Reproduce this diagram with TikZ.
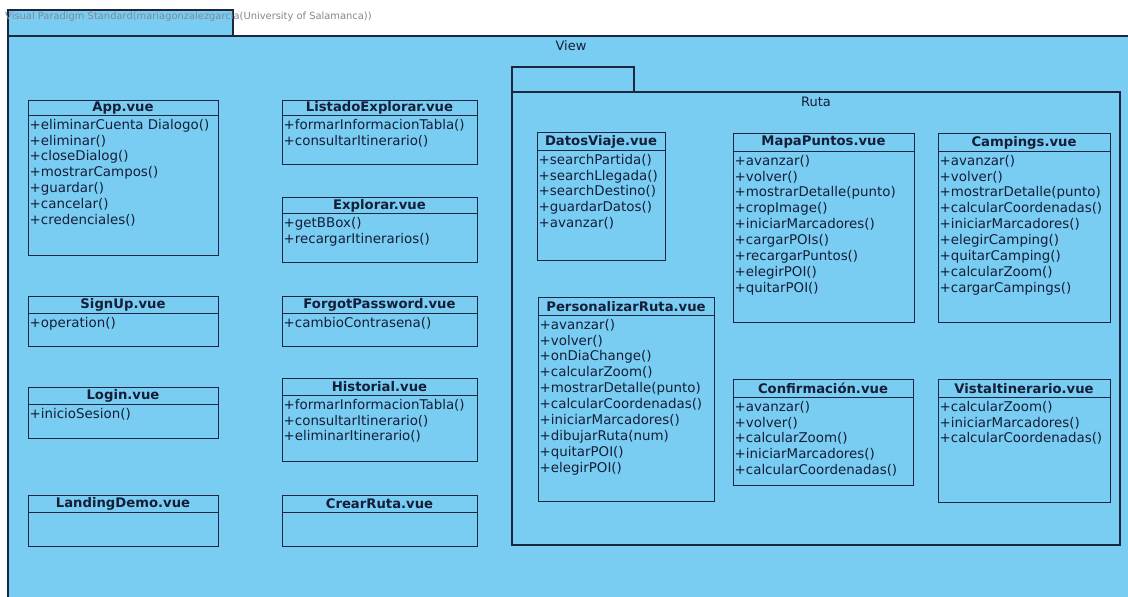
\documentclass[tikz,border=0pt]{standalone}
\usepackage{fontspec}
\setmainfont{DejaVu Sans}
\definecolor{vpfill}{RGB}{122,205,242}
\definecolor{vpline}{RGB}{28,38,62}
\definecolor{vptext}{RGB}{20,30,55}
\definecolor{wmark}{RGB}{128,136,146}
\tikzset{
  pkgline/.style={draw=vpline, line width=1.1pt, fill=vpfill},
  classbox/.style={draw=vpline, line width=1pt, fill=vpfill, inner sep=0pt, anchor=north west},
  classtitle/.style={text=vptext, font=\fontsize{13.2}{15}\selectfont\bfseries, inner sep=0pt},
  methods/.style={text=vptext, font=\fontsize{13.4}{15.9}\selectfont, align=left, anchor=north west, inner xsep=1.5pt, inner ysep=3.8pt},
  pkgtitle/.style={text=vptext, font=\fontsize{13}{15}\selectfont, inner sep=0pt}
}
\newcommand\umlclass[8]{%
  \node[classbox, minimum width={#4pt-#2pt}, minimum height={#5pt-#3pt}] (#1) at (#2,#3) {};
  \draw[draw=vpline, line width=1pt] (#2,#6) -- (#4,#6);
  \node[classtitle] (#1-t) at ({(#2+#4)/2},{(#3+#6)/2+0.5}) {#7};
  \node[methods] (#1-m) at (#2,#6) {#8};
}
\begin{document}
\begin{tikzpicture}[x=1pt, y=-1pt]
\useasboundingbox (0,0) rectangle (1128,597);
\fill[white] (0,0) rectangle (1128,597);
% View package
\draw[pkgline] (8,10) rectangle (233,36);
\draw[pkgline] (8,36) rectangle (1145,610);
\node[pkgtitle] (viewt) at (571,46) {View};
\node[anchor=west, text=wmark, inner sep=0pt, font=\fontsize{9.9}{11}\selectfont] (wm) at (5,17) {Visual Paradigm Standard(mariagonzalezgarcia(University of Salamanca))};
% Ruta package
\draw[pkgline] (512,67) rectangle (634,92);
\draw[pkgline] (512,92) rectangle (1120,545);
\node[pkgtitle] (rutat) at (816,102) {Ruta};
% left column
\umlclass{app}{28}{100}{218}{255}{115}{App.vue}{+eliminarCuenta Dialogo()\\+eliminar()\\+closeDialog()\\+mostrarCampos()\\+guardar()\\+cancelar()\\+credenciales()}
\umlclass{signup}{28}{296}{218}{346}{313}{SignUp.vue}{+operation()}
\umlclass{login}{28}{387}{218}{438}{404}{Login.vue}{+inicioSesion()}
\umlclass{landing}{28}{495}{218}{546}{512}{LandingDemo.vue}{}
% middle column
\umlclass{listado}{282}{100}{477}{164}{115}{ListadoExplorar.vue}{+formarInformacionTabla()\\+consultarItinerario()}
\umlclass{explorar}{282}{197}{477}{262}{213}{Explorar.vue}{+getBBox()\\+recargarItinerarios()}
\umlclass{forgot}{282}{296}{477}{346}{313}{ForgotPassword.vue}{+cambioContrasena()}
\umlclass{historial}{282}{378}{477}{461}{395}{Historial.vue}{+formarInformacionTabla()\\+consultarItinerario()\\+eliminarItinerario()}
\umlclass{crear}{282}{495}{477}{546}{512}{CrearRuta.vue}{}
% Ruta classes
\umlclass{datos}{537}{132}{665}{260}{150}{DatosViaje.vue}{+searchPartida()\\+searchLlegada()\\+searchDestino()\\+guardarDatos()\\+avanzar()}
\umlclass{mapa}{733}{133}{914}{322}{151}{MapaPuntos.vue}{+avanzar()\\+volver()\\+mostrarDetalle(punto)\\+cropImage()\\+iniciarMarcadores()\\+cargarPOIs()\\+recargarPuntos()\\+elegirPOI()\\+quitarPOI()}
\umlclass{campings}{938}{133}{1110}{322}{151}{Campings.vue}{+avanzar()\\+volver()\\+mostrarDetalle(punto)\\+calcularCoordenadas()\\+iniciarMarcadores()\\+elegirCamping()\\+quitarCamping()\\+calcularZoom()\\+cargarCampings()}
\umlclass{personalizar}{538}{297}{714}{501}{315}{PersonalizarRuta.vue}{+avanzar()\\+volver()\\+onDiaChange()\\+calcularZoom()\\+mostrarDetalle(punto)\\+calcularCoordenadas()\\+iniciarMarcadores()\\+dibujarRuta(num)\\+quitarPOI()\\+elegirPOI()}
\umlclass{confirm}{733}{379}{913}{485}{397}{Confirmación.vue}{+avanzar()\\+volver()\\+calcularZoom()\\+iniciarMarcadores()\\+calcularCoordenadas()}
\umlclass{vista}{938}{379}{1110}{502}{397}{VistaItinerario.vue}{+calcularZoom()\\+iniciarMarcadores()\\+calcularCoordenadas()}
\end{tikzpicture}
\end{document}
